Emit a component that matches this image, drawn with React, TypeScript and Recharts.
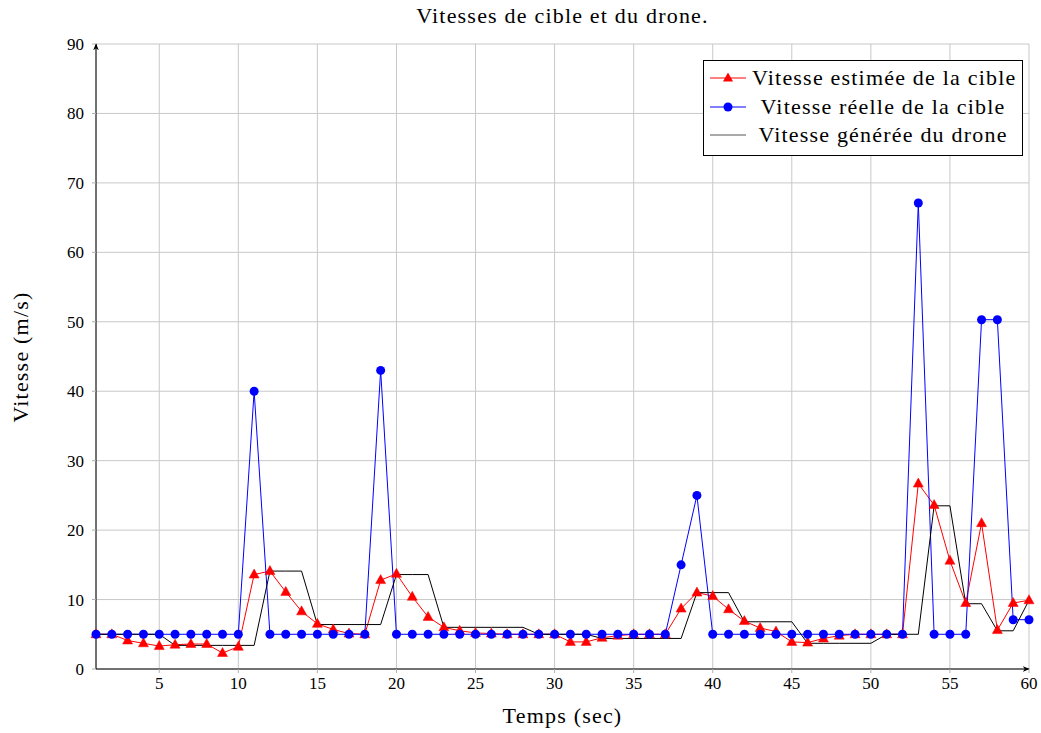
import { LineChart, Line, XAxis, YAxis, CartesianGrid } from "recharts";

const temps = [
  1, 2, 3, 4, 5, 6, 7, 8, 9, 10, 11, 12, 13, 14, 15, 16, 17, 18, 19, 20,
  21, 22, 23, 24, 25, 26, 27, 28, 29, 30, 31, 32, 33, 34, 35, 36, 37, 38, 39, 40,
  41, 42, 43, 44, 45, 46, 47, 48, 49, 50, 51, 52, 53, 54, 55, 56, 57, 58, 59, 60,
];

const vitesseEstimee = [
  5, 5, 4.1, 3.7, 3.3, 3.5, 3.6, 3.6, 2.3, 3.2,
  13.6, 14.1, 11.1, 8.3, 6.5, 5.7, 5.1, 5.0, 12.8, 13.7,
  10.4, 7.5, 6.0, 5.5, 5.2, 5.1, 5.0, 5.0, 5.0, 5.0,
  3.9, 3.9, 4.5, 4.8, 5.0, 5.0, 5.0, 8.7, 11.0, 10.5,
  8.6, 6.9, 5.9, 5.4, 3.9, 3.8, 4.4, 4.8, 5.0, 5.0,
  5.0, 5.0, 26.7, 23.6, 15.6, 9.5, 21.0, 5.6, 9.5, 9.9,
];

const vitesseReelle = [
  5, 5, 5, 5, 5, 5, 5, 5, 5, 5,
  40, 5, 5, 5, 5, 5, 5, 5, 43, 5,
  5, 5, 5, 5, 5, 5, 5, 5, 5, 5,
  5, 5, 5, 5, 5, 5, 5, 15, 25, 5,
  5, 5, 5, 5, 5, 5, 5, 5, 5, 5,
  5, 5, 67.1, 5, 5, 5, 50.3, 50.3, 7.1, 7.1,
];

const vitesseDrone = [
  5, 5, 5, 5, 5, 3.4, 3.4, 3.4, 3.4, 3.4,
  3.4, 14.1, 14.1, 14.1, 6.4, 6.4, 6.4, 6.4, 6.4, 13.6,
  13.6, 13.6, 6.0, 6.0, 6.0, 6.0, 6.0, 6.0, 5.0, 5.0,
  5.0, 5.0, 4.4, 4.4, 4.4, 4.4, 4.4, 4.4, 11.0, 11.0,
  11.0, 6.8, 6.8, 6.8, 6.8, 3.7, 3.7, 3.7, 3.7, 3.7,
  5.0, 5.0, 5.0, 23.5, 23.5, 9.4, 9.4, 5.5, 5.5, 9.9,
];

const xTicks = [5, 10, 15, 20, 25, 30, 35, 40, 45, 50, 55, 60];
const yTicks = [0, 10, 20, 30, 40, 50, 60, 70, 80, 90];

const seriesNames = [
  "Vitesse estimée de la cible",
  "Vitesse réelle de la cible",
  "Vitesse générée du drone",
];

const data = temps.map((t, i) => ({
  t,
  estimee: vitesseEstimee[i],
  reelle: vitesseReelle[i],
  drone: vitesseDrone[i],
}));

const FONT = "'Liberation Serif', serif";
const textStyle = { fontFamily: FONT, fontSize: 22, letterSpacing: 1.2, color: "#000" };

const Triangle = (props: any) => {
  const { cx, cy, index } = props;
  if (cx == null || cy == null) return <g key={`tri-${index}`} />;
  return (
    <polygon
      key={`tri-${index}`}
      points={`${cx},${cy - 5.5} ${cx - 5},${cy + 3.5} ${cx + 5},${cy + 3.5}`}
      fill="#ff0000"
      stroke="#ff0000"
      strokeWidth={0.5}
    />
  );
};

const XTick = (props: any) => {
  const { x, y, payload } = props;
  return (
    <text x={x} y={y + 14} textAnchor="middle" fontFamily={FONT} fontSize={17} fill="#000">
      {payload.value}
    </text>
  );
};

const YTick = (props: any) => {
  const { x, y, payload } = props;
  return (
    <text x={x} y={y + 6} textAnchor="end" fontFamily={FONT} fontSize={17} fill="#000">
      {payload.value}
    </text>
  );
};

const LegendBox = () => (
  <div
    style={{
      ...textStyle,
      position: "absolute",
      left: 703,
      top: 60,
      width: 318,
      height: 91,
      border: "1px solid #000",
      background: "#fff",
      paddingTop: 3,
      boxSizing: "content-box",
      zIndex: 2,
    }}
  >
    {seriesNames.map((name, i) => (
      <div key={name} style={{ display: "flex", alignItems: "center", height: 28.5 }}>
        <svg width={44} height={16} style={{ marginLeft: 4, flex: "none" }}>
          <line x1={2} y1={8} x2={38} y2={8} stroke={["#ff0000", "#0000ff", "#555"][i]} strokeWidth={1} />
          {i === 0 && <polygon points="20,2.5 15,11.5 25,11.5" fill="#ff0000" />}
          {i === 1 && <circle cx={20} cy={8} r={4.5} fill="#0000ff" />}
        </svg>
        <span style={{ flex: 1, textAlign: "center", whiteSpace: "nowrap", paddingRight: 8 }}>{name}</span>
      </div>
    ))}
  </div>
);

export default function App() {
  return (
    <div style={{ position: "absolute", left: 0, top: 0, width: 1041, height: 733, background: "#fff" }}>
      <div style={{ ...textStyle, position: "absolute", top: 3, left: 0, width: 1125, textAlign: "center" }}>
        Vitesses de cible et du drone.
      </div>
      <div style={{ ...textStyle, position: "absolute", top: 703, left: 96, width: 933, textAlign: "center" }}>
        Temps (sec)
      </div>
      <div
        style={{
          ...textStyle,
          position: "absolute",
          left: 21,
          top: 357,
          transform: "translate(-50%, -50%) rotate(-90deg)",
          whiteSpace: "nowrap",
        }}
      >
        Vitesse (m/s)
      </div>
      <LegendBox />
      <LineChart
        width={1041}
        height={733}
        data={data}
        margin={{ top: 44, right: 12, left: 0, bottom: 0 }}
        style={{ fontFamily: FONT }}
      >
        <defs>
          <marker id="arrow" viewBox="0 0 10 10" refX="9" refY="5" markerWidth="7" markerHeight="7" orient="auto-start-reverse">
            <path d="M0,1 L10,5 L0,9 L3,5 Z" fill="#000" />
          </marker>
        </defs>
        <CartesianGrid stroke="#c8c8c8" strokeWidth={1} />
        <XAxis
          dataKey="t"
          type="number"
          domain={[1, 60]}
          ticks={xTicks}
          height={64}
          interval={0}
          axisLine={{ stroke: "#000", strokeWidth: 1, markerEnd: "url(#arrow)" }}
          tickLine={{ stroke: "#b0b0b0" }}
          tickSize={4}
          tickMargin={2}
          tick={<XTick />}
        />
        <YAxis
          type="number"
          domain={[0, 90]}
          ticks={yTicks}
          width={96}
          interval={0}
          axisLine={{ stroke: "#000", strokeWidth: 1, markerStart: "url(#arrow)" }}
          tickLine={{ stroke: "#b0b0b0" }}
          tickSize={4}
          tickMargin={8}
          tick={<YTick />}
        />
        <Line
          dataKey="estimee"
          stroke="#ff0000"
          strokeWidth={1}
          dot={Triangle}
          activeDot={false}
          isAnimationActive={false}
        />
        <Line
          dataKey="reelle"
          stroke="#0000ff"
          strokeWidth={1}
          dot={{ r: 4.5, fill: "#0000ff", stroke: "#0000ff", strokeWidth: 0 }}
          activeDot={false}
          isAnimationActive={false}
        />
        <Line
          dataKey="drone"
          stroke="#000"
          strokeWidth={1}
          dot={false}
          activeDot={false}
          isAnimationActive={false}
        />
      </LineChart>
    </div>
  );
}
